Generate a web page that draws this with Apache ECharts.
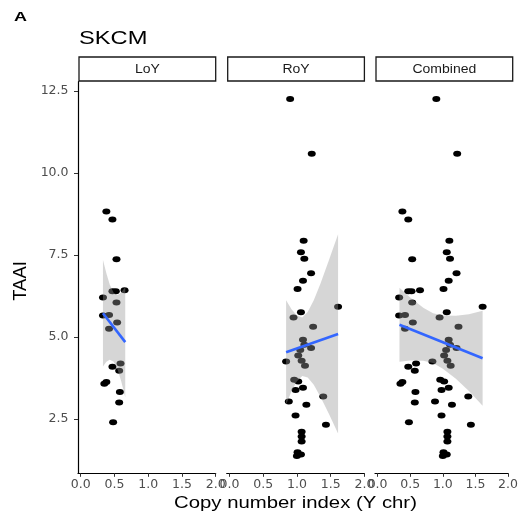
<!DOCTYPE html>
<html><head><meta charset="utf-8">
<script src="https://cdn.jsdelivr.net/npm/echarts@6/dist/echarts.min.js"></script>
<style>html,body{margin:0;padding:0;background:#fff}#c{width:521px;height:519px}</style>
</head><body><div id="c"></div>
<script>
// ---------- data ----------
const panels = ['LoY', 'RoY', 'Combined'];
const xTicks = [0, 0.5, 1.0, 1.5, 2.0];
const yTicks = [2.5, 5.0, 7.5, 10.0, 12.5];

const loyX = [0.38,0.47,0.53,0.47,0.52,0.65,0.33,0.53,0.33,0.42,0.54,0.42,0.47,0.59,0.57,0.35,0.38,0.58,0.57,0.48];
const loyY = [8.82,8.58,7.37,6.39,6.39,6.42,6.20,6.05,5.65,5.67,5.44,5.25,4.09,4.19,3.97,3.57,3.62,3.32,3.00,2.40];

const royX = [0.90,1.22,1.10,1.06,1.11,1.21,1.09,1.01,1.61,1.06,0.95,1.24,1.09,1.11,1.21,1.05,0.84,1.02,1.07,1.12,
              0.96,1.02,1.09,0.98,1.39,0.88,1.14,0.98,1.43,1.07,1.07,1.07,1.01,1.06,1.00];
const royY = [12.25,10.58,7.93,7.58,7.38,6.94,6.71,6.46,5.92,5.75,5.59,5.31,4.91,4.76,4.66,4.60,4.25,4.43,4.27,4.12,
              3.69,3.64,3.45,3.38,3.18,3.03,2.93,2.60,2.32,2.11,1.96,1.81,1.48,1.41,1.37];

const loyFitX = [0.33, 0.66];   const loyFitY = [5.72, 4.84];
const royFitX = [0.84, 1.61];   const royFitY = [4.53, 5.09];
const combFitX = [0.335, 1.61]; const combFitY = [5.37, 4.35];

const loyBandX = [0.33, 0.38, 0.43, 0.49, 0.55, 0.60, 0.66];
const loyBandUp = [7.34, 6.94, 6.60, 6.34, 6.28, 6.35, 6.52];
const loyBandLo = [4.10, 4.24, 4.30, 4.24, 3.98, 3.65, 3.16];

const royBandX = [0.84, 0.92, 1.00, 1.08, 1.16, 1.25, 1.35, 1.47, 1.61];
const royBandUp = [6.12, 5.84, 5.65, 5.59, 5.76, 6.12, 6.63, 7.31, 8.13];
const royBandLo = [2.94, 3.34, 3.65, 3.81, 3.76, 3.54, 3.17, 2.67, 2.05];

const combBandX = [0.335, 0.5, 0.7, 0.85, 1.0, 1.2, 1.4, 1.61];
const combBandUp = [6.50, 6.20, 5.89, 5.72, 5.65, 5.64, 5.69, 5.80];
const combBandLo = [4.24, 4.28, 4.27, 4.20, 4.03, 3.72, 3.35, 2.90];

// ---------- build ----------
const zip = (a, b) => a.map((v, i) => [v, b[i]]);
const pointSets = [zip(loyX, loyY), zip(royX, royY), zip(loyX.concat(royX), loyY.concat(royY))];
const fits = [zip(loyFitX, loyFitY), zip(royFitX, royFitY), zip(combFitX, combFitY)];
const bands = [[loyBandX, loyBandUp, loyBandLo], [royBandX, royBandUp, royBandLo], [combBandX, combBandUp, combBandLo]];

const FONT = 'Liberation Sans, Arial, sans-serif';
const TICKFONT = 'DejaVu Sans, sans-serif';
const gridLefts = [78, 226.7, 375];
const gridW = 137.7, gridTop = 81.7, gridH = 391.6;
const XMIN = -0.04, XMAX = 2.0, YMIN = 0.84, YMAX = 12.78;

const grids = gridLefts.map(l => ({left: l, top: gridTop, width: gridW, height: gridH, containLabel: false}));

const xAxes = gridLefts.map((l, i) => ({
  gridIndex: i, type: 'value', min: XMIN, max: XMAX,
  axisLine: {show: true, onZero: false, lineStyle: {color: '#000', width: 1.2}},
  axisTick: {show: true, customValues: xTicks, length: 3.5, lineStyle: {color: '#333', width: 1}},
  axisLabel: {customValues: xTicks, formatter: v => v.toFixed(1), fontSize: 12.5, color: '#4d4d4d', margin: 4.5, fontFamily: TICKFONT},
  splitLine: {show: false}
}));

const yAxes = gridLefts.map((l, i) => ({
  gridIndex: i, type: 'value', min: YMIN, max: YMAX, show: i === 0,
  axisLine: {show: true, onZero: false, lineStyle: {color: '#000', width: 1.2}},
  axisTick: {show: true, customValues: yTicks, length: 4, lineStyle: {color: '#333', width: 1}},
  axisLabel: {customValues: yTicks, formatter: v => v.toFixed(1), fontSize: 12.5, color: '#4d4d4d', margin: 9.5, fontFamily: TICKFONT},
  splitLine: {show: false}
}));

const series = [];
for (let i = 0; i < 3; i++) {
  series.push({
    type: 'scatter', xAxisIndex: i, yAxisIndex: i, z: 2, silent: true,
    symbol: 'circle', symbolSize: [8, 6],
    itemStyle: {color: '#000', opacity: 1},
    data: pointSets[i]
  });
  const [bx, up, lo] = bands[i];
  series.push({
    type: 'custom', xAxisIndex: i, yAxisIndex: i, z: 3, silent: true,
    data: [[1, 5]],
    renderItem: function (params, api) {
      const pts = [];
      for (let k = 0; k < bx.length; k++) pts.push(api.coord([bx[k], up[k]]));
      for (let k = bx.length - 1; k >= 0; k--) pts.push(api.coord([bx[k], lo[k]]));
      return {type: 'polygon', shape: {points: pts}, style: {fill: 'rgba(153,153,153,0.4)', stroke: null}};
    }
  });
  series.push({
    type: 'line', xAxisIndex: i, yAxisIndex: i, z: 4, silent: true,
    showSymbol: false, symbol: 'none',
    lineStyle: {color: '#3366FF', width: 2.6},
    data: fits[i]
  });
}

const graphics = [];
gridLefts.forEach((l, i) => {
  graphics.push({type: 'rect', shape: {x: l + 1, y: 57, width: gridW - 1, height: 24},
    style: {fill: '#fff', stroke: '#1a1a1a', lineWidth: 1.3}, silent: true});
  graphics.push({type: 'text', x: l + gridW / 2 + 0.5, y: 69.5, scaleX: 1.12,
    style: {text: panels[i], fontSize: 12.5, fontFamily: FONT, fill: '#1a1a1a', textAlign: 'center', textVerticalAlign: 'middle'}, silent: true});
});
graphics.push({type: 'text', x: 79, y: 38.5, scaleX: 1.28,
  style: {text: 'SKCM', fontSize: 18.5, fontFamily: FONT, fill: '#000', textAlign: 'left', textVerticalAlign: 'middle'}});
graphics.push({type: 'text', x: 295.5, y: 503.5, scaleX: 1.27,
  style: {text: 'Copy number index (Y chr)', fontSize: 16, fontFamily: FONT, fill: '#000', textAlign: 'center', textVerticalAlign: 'middle'}});
graphics.push({type: 'text', x: 20.5, y: 281, rotation: Math.PI / 2,
  style: {text: 'TAAI', fontSize: 18.5, fontFamily: FONT, fill: '#000', textAlign: 'center', textVerticalAlign: 'middle'}});
graphics.push({type: 'text', x: 20.5, y: 17.5, scaleX: 1.5,
  style: {text: 'A', fontSize: 12, fontWeight: 'bold', fontFamily: FONT, fill: '#000', textAlign: 'center', textVerticalAlign: 'middle'}});

const chart = echarts.init(document.getElementById('c'), null, {renderer: 'canvas'});
chart.setOption({
  animation: false,
  backgroundColor: '#fff',
  grid: grids,
  xAxis: xAxes,
  yAxis: yAxes,
  series: series,
  graphic: graphics
});
</script>
</body></html>
